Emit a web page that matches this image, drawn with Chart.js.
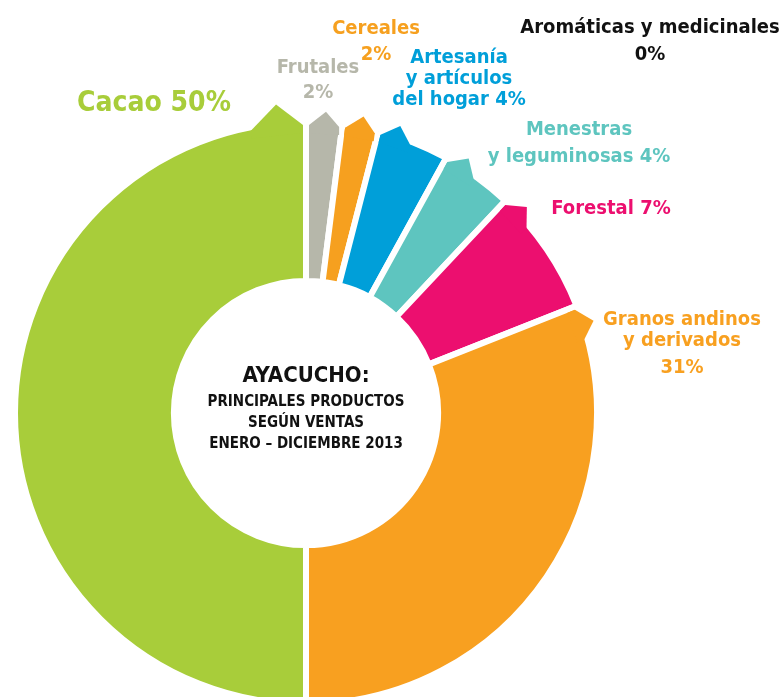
<!DOCTYPE html>
<html>
<head>
<meta charset="utf-8">
<script src="https://cdn.jsdelivr.net/npm/chart.js@4"></script>
<style>
  html, body { margin: 0; padding: 0; background: #fff; }
</style>
</head>
<body>
<canvas id="chart" width="780" height="697"></canvas>
<script>
// data, clockwise from 12 o'clock
const categories = ['Frutales', 'Cereales', 'Artesanía y artículos del hogar', 'Menestras y leguminosas',
  'Forestal', 'Granos andinos y derivados', 'Cacao', 'Aromáticas y medicinales'];
const shares = [2, 2, 4, 4, 7, 31, 50, 0];
const sliceColors = ['#b6b7aa', '#f6a01f', '#009fd9', '#5ec5bf', '#ec0f6f', '#f8a020', '#a8cd3a', '#111111'];

// label text, the percentage is added from shares
const nameLines = [['Frutales'], ['Cereales'], ['Artesanía', 'y artículos', 'del hogar'], ['Menestras', 'y leguminosas'],
  ['Forestal'], ['Granos andinos', 'y derivados'], ['Cacao'], ['Aromáticas y medicinales']];
const pctOwnLine = [true, true, false, false, false, true, false, true];

const centerTitle = 'AYACUCHO:';
const centerLines = ['PRINCIPALES PRODUCTOS', 'SEGÚN VENTAS', 'ENERO – DICIEMBRE 2013'];

// where each label block sits: center x, first line y, line step, font size
const labelPos = [
  { x: 318, y: 68, step: 25, size: 20 },
  { x: 376, y: 29, step: 26, size: 20 },
  { x: 459, y: 58, step: 21, size: 20 },
  { x: 579, y: 130, step: 27, size: 20 },
  { x: 611, y: 209, step: 0, size: 20 },
  { x: 682, y: 320, step: [21, 27], size: 20 },
  { x: 154, y: 104, step: 0, size: 28 },
  { x: 650, y: 28, step: 27, size: 20 },
];

const FONT = '"DejaVu Sans Condensed", "DejaVu Sans", sans-serif';

// the little pointed tab on the outer edge of every slice
const tabPlugin = {
  id: 'tabs',
  afterDatasetsDraw(chart) {
    const ctx = chart.ctx;
    const meta = chart.getDatasetMeta(0);
    meta.data.forEach((arc, i) => {
      if (!shares[i]) return;
      const { x, y, startAngle, endAngle, outerRadius } = arc.getProps(['x', 'y', 'startAngle', 'endAngle', 'outerRadius'], true);
      const big = shares[i] >= 50;
      const r = outerRadius - 3;
      const width = (endAngle - startAngle) * r;
      const t0 = 3;
      const tp = big ? 30 : 20;
      const t1 = Math.min(big ? 55 : 34, width - 3);
      const h = big ? 22 : 14;
      const base = big ? endAngle : startAngle;
      const dir = big ? -1 : 1;
      const pt = (rad, t) => {
        const a = base + dir * t / rad;
        return [x + rad * Math.cos(a), y + rad * Math.sin(a)];
      };
      ctx.save();
      ctx.fillStyle = sliceColors[i];
      ctx.beginPath();
      ctx.moveTo(...pt(r - 8, t0));
      ctx.lineTo(...pt(r, t0));
      ctx.lineTo(...pt(r + h, tp));
      ctx.lineTo(...pt(r, t1));
      ctx.lineTo(...pt(r - 8, t1));
      ctx.closePath();
      ctx.fill();
      ctx.restore();
    });
  }
};

const labelPlugin = {
  id: 'labels',
  afterDraw(chart) {
    const ctx = chart.ctx;
    ctx.save();
    ctx.textAlign = 'center';
    ctx.textBaseline = 'middle';

    categories.forEach((c, i) => {
      const lines = nameLines[i].slice();
      const pct = shares[i] + '%';
      if (pctOwnLine[i]) lines.push(pct);
      else lines[lines.length - 1] += ' ' + pct;
      const p = labelPos[i];
      ctx.fillStyle = sliceColors[i];
      ctx.font = `bold ${p.size}px ${FONT}`;
      let yy = p.y;
      lines.forEach((line, k) => {
        ctx.fillText(line, p.x, yy);
        yy += Array.isArray(p.step) ? p.step[k] || 0 : p.step;
      });
    });

    // text in the hole
    const arc = chart.getDatasetMeta(0).data[0];
    ctx.fillStyle = '#111111';
    ctx.font = `bold 22px ${FONT}`;
    ctx.fillText(centerTitle, arc.x, arc.y - 37);
    ctx.font = `bold 15px ${FONT}`;
    centerLines.forEach((line, k) => {
      ctx.fillText(line, arc.x, arc.y - 11 + k * 21);
    });
    ctx.restore();
  }
};

new Chart(document.getElementById('chart'), {
  type: 'doughnut',
  data: {
    labels: categories,
    datasets: [{
      data: shares,
      backgroundColor: sliceColors,
      borderColor: '#ffffff',
      borderWidth: 6,
      hoverOffset: 0,
    }]
  },
  options: {
    responsive: false,
    animation: false,
    events: [],
    radius: 291,
    cutout: '45.4%',
    layout: { padding: { left: 0, right: 168, top: 129, bottom: 0 } },
    plugins: {
      legend: { display: false },
      tooltip: { enabled: false },
    },
  },
  plugins: [tabPlugin, labelPlugin],
});
</script>
</body>
</html>
